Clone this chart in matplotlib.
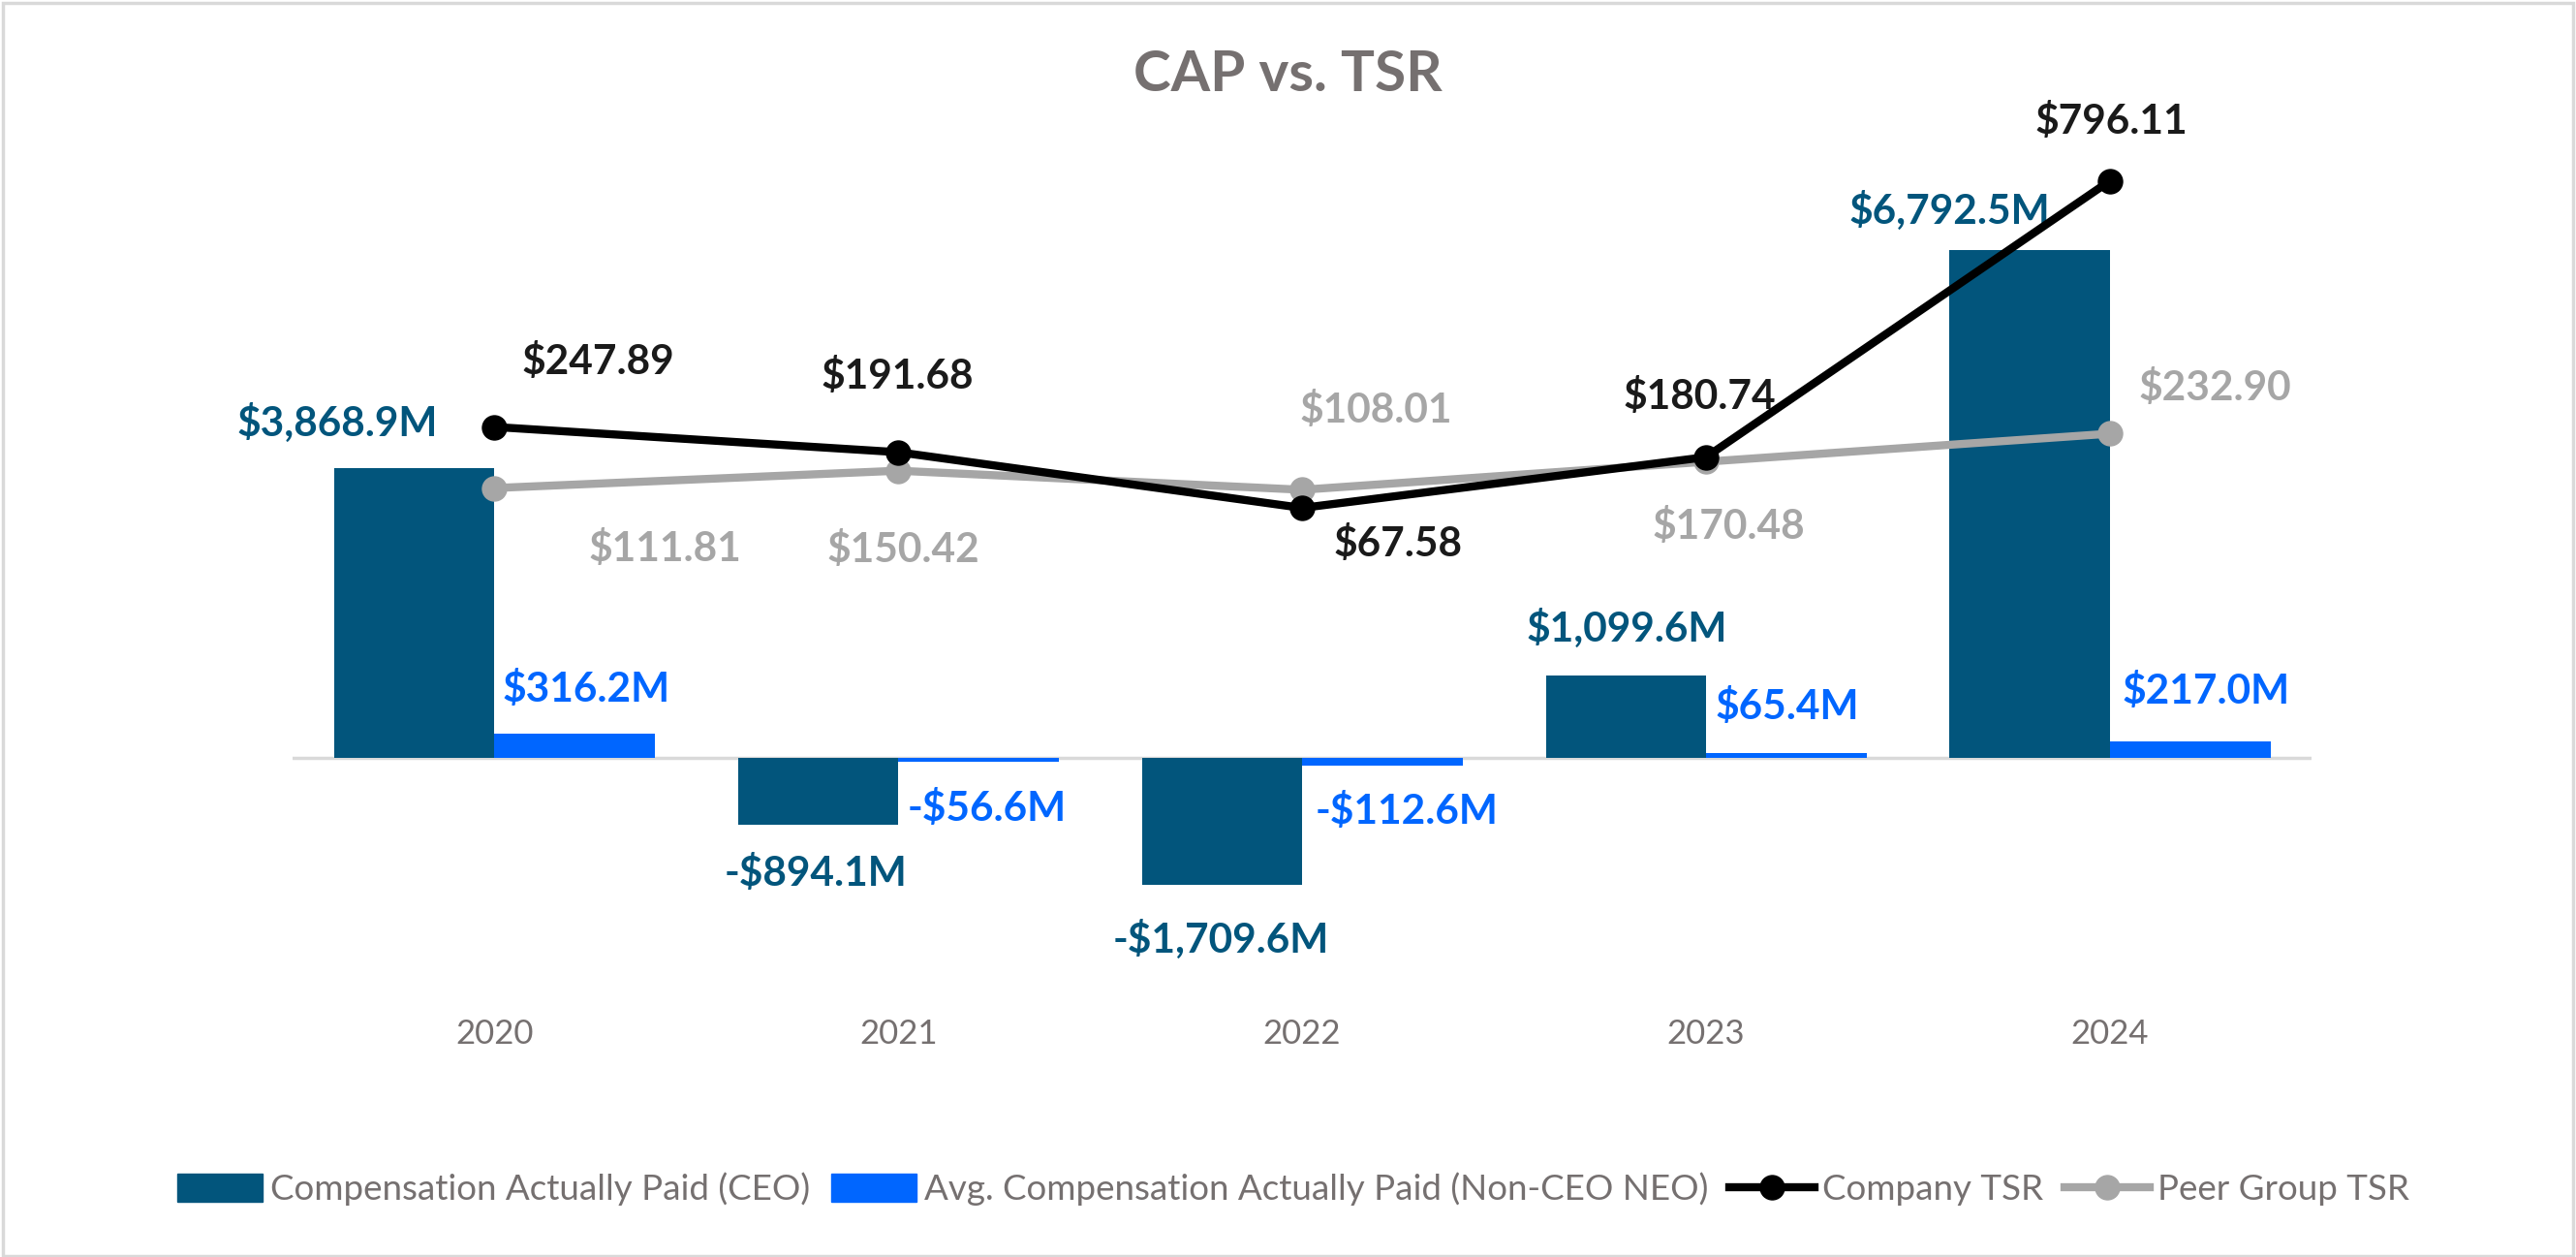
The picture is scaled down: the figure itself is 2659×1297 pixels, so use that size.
import matplotlib
matplotlib.use("Agg")
import matplotlib.pyplot as plt
from matplotlib.patches import Patch, Rectangle
from matplotlib.lines import Line2D
import numpy as np

plt.rcParams['font.family'] = ['Lato', 'DejaVu Sans']

years = ["2020", "2021", "2022", "2023", "2024"]
cap_ceo = [3868.9, -894.1, -1709.6, 1099.6, 6792.5]
cap_neo = [316.2, -56.6, -112.6, 65.4, 217.0]
company_tsr = [247.89, 191.68, 67.58, 180.74, 796.11]
peer_tsr = [111.81, 150.42, 108.01, 170.48, 232.90]

# label offsets (points) from each mark
off_ceo = [(-57, 34), (-2, -37), (-1, -40), (1, 35), (-60, 29)]
off_neo = [(9, 33), (6, -35), (18, -34), (1, 34), (12, 37)]
off_co = [(77, 48), (-1, 56), (71, -27), (-5, 45), (1, 44)]
off_peer = [(127, -45), (4, -59), (55, 59), (17, -48), (78, 34)]

c_ceo = "#02557c"
c_neo = "#0066ff"
c_co = "#000000"
c_peer = "#a6a6a6"
c_text = "#757070"

fig = plt.figure(figsize=(26.59, 12.97), dpi=100)
fig.patches.append(Rectangle((0.001, 0.001), 0.998, 0.997, transform=fig.transFigure,
                             fill=False, edgecolor="#d9d9d9", linewidth=2.5))

ax = fig.add_axes([0.1135, 0.2157, 0.784, 0.6797])
x = np.arange(len(years))
w = 0.397
ax.bar(x - w / 2, cap_ceo, w, color=c_ceo, zorder=2)
ax.bar(x + w / 2, cap_neo, w, color=c_neo, zorder=2)
ax.axhline(0, color="#d9d9d9", linewidth=2.5, zorder=1)
ax.set_xlim(-0.5, 4.5)
ax.set_ylim(-3055, 8374)
ax.set_xticks(x)
ax.set_xticklabels(years, fontsize=25, color=c_text)
ax.tick_params(axis="x", length=0, pad=24)
ax.set_yticks([])
for s in ax.spines.values():
    s.set_visible(False)

ax2 = ax.twinx()
ax2.plot(x, peer_tsr, color=c_peer, linewidth=6, marker="o", markersize=18, zorder=3)
ax2.plot(x, company_tsr, color=c_co, linewidth=6, marker="o", markersize=18, zorder=4)
ax2.set_ylim(-997, 906)
ax2.set_yticks([])
for s in ax2.spines.values():
    s.set_visible(False)


def money(v):
    s = "${:,.1f}M".format(abs(v))
    return "-" + s if v < 0 else s


fs = 30.5
for i in range(len(years)):
    ax2.annotate(money(cap_ceo[i]), xy=(x[i] - w / 2, cap_ceo[i]), xycoords=ax.transData,
                 xytext=off_ceo[i], textcoords="offset points", ha="center", va="center",
                 fontsize=fs, fontweight="bold", color=c_ceo)
    ax2.annotate(money(cap_neo[i]), xy=(x[i] + w / 2, cap_neo[i]), xycoords=ax.transData,
                 xytext=off_neo[i], textcoords="offset points", ha="center", va="center",
                 fontsize=fs, fontweight="bold", color=c_neo)
    ax2.annotate("${:,.2f}".format(company_tsr[i]), xy=(x[i], company_tsr[i]),
                 xytext=off_co[i], textcoords="offset points", ha="center", va="center",
                 fontsize=fs, fontweight="bold", color="#1a1a1a")
    ax2.annotate("${:,.2f}".format(peer_tsr[i]), xy=(x[i], peer_tsr[i]),
                 xytext=off_peer[i], textcoords="offset points", ha="center", va="center",
                 fontsize=fs, fontweight="bold", color=c_peer)

fig.text(0.5, 0.94, "CAP vs. TSR", ha="center", va="center", fontsize=42,
         fontweight="bold", color=c_text)

handles = [
    Patch(color=c_ceo, label="Compensation Actually Paid (CEO)"),
    Patch(color=c_neo, label="Avg. Compensation Actually Paid (Non-CEO NEO)"),
    Line2D([], [], color=c_co, linewidth=6, marker="o", markersize=18, label="Company TSR"),
    Line2D([], [], color=c_peer, linewidth=6, marker="o", markersize=18, label="Peer Group TSR"),
]
leg = fig.legend(handles=handles, loc="center", bbox_to_anchor=(0.502, 0.054), ncol=4,
                 frameon=False, fontsize=26.5, handlelength=2.4, handleheight=0.85,
                 handletextpad=0.2, columnspacing=0.6)
for t in leg.get_texts():
    t.set_color(c_text)

fig.savefig("out.png", dpi=100)
